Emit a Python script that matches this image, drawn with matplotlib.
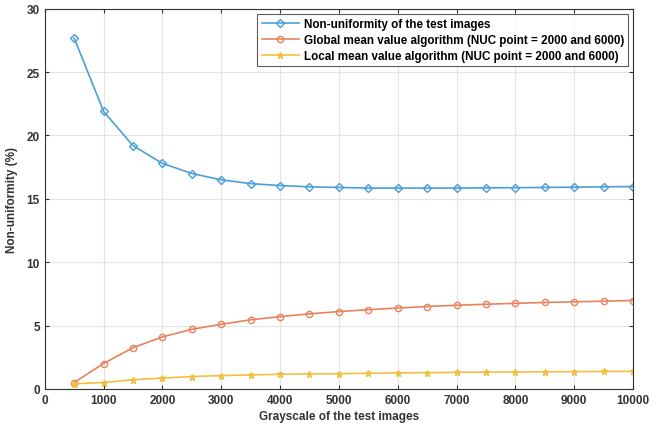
import matplotlib
matplotlib.use("Agg")
import matplotlib.pyplot as plt

grayscale = [500, 1000, 1500, 2000, 2500, 3000, 3500, 4000, 4500, 5000,
             5500, 6000, 6500, 7000, 7500, 8000, 8500, 9000, 9500, 10000]
nonuniformity = [27.7, 21.9, 19.2, 17.8, 17.0, 16.5, 16.2, 16.05, 15.95, 15.9,
                 15.85, 15.85, 15.85, 15.85, 15.87, 15.88, 15.9, 15.92, 15.95, 15.97]
global_mean = [0.5, 2.0, 3.25, 4.1, 4.7, 5.1, 5.45, 5.7, 5.92, 6.1,
               6.25, 6.38, 6.5, 6.6, 6.68, 6.75, 6.82, 6.87, 6.92, 6.97]
local_mean = [0.4, 0.5, 0.72, 0.85, 0.97, 1.05, 1.1, 1.15, 1.18, 1.2,
              1.23, 1.26, 1.28, 1.3, 1.32, 1.33, 1.35, 1.36, 1.37, 1.38]
labels = ["Non-uniformity of the test images",
          "Global mean value algorithm (NUC point = 2000 and 6000)",
          "Local mean value algorithm (NUC point = 2000 and 6000)"]

plt.rcParams['font.family'] = ['Liberation Sans', 'DejaVu Sans']
plt.rcParams['font.weight'] = 'bold'

fig = plt.figure(figsize=(6.58, 4.27), dpi=100)
ax = fig.add_axes([0.068, 0.087, 0.894, 0.89])

ax.plot(grayscale, nonuniformity, color='#4A9FD8', marker='D', markersize=4,
        markerfacecolor='none', markeredgewidth=1.0, linewidth=1.2, label=labels[0])
ax.plot(grayscale, global_mean, color='#E8825A', marker='o', markersize=4.5,
        markerfacecolor='none', markeredgewidth=1.0, linewidth=1.2, label=labels[1])
ax.plot(grayscale, local_mean, color='#F0C040', marker='*', markersize=4.5,
        linewidth=1.2, label=labels[2])

ax.set_xlim(0, 10000)
ax.set_ylim(0, 30)
ax.set_xticks(range(0, 10001, 1000))
ax.set_yticks(range(0, 31, 5))
ax.grid(True, color='#E4E4E4', linewidth=0.8)
ax.tick_params(direction='in', top=True, right=True, labelsize=8.5, length=3,
               colors='#333333')
for lab in ax.get_xticklabels() + ax.get_yticklabels():
    lab.set_fontweight('bold')
for s in ax.spines.values():
    s.set_color('#333333')
    s.set_linewidth(0.8)

ax.set_xlabel("Grayscale of the test images", fontsize=8.5, fontweight='bold',
              color='#333333', labelpad=3)
ax.set_ylabel("Non-uniformity (%)", fontsize=8.5, fontweight='bold',
              color='#333333', labelpad=6)

leg = ax.legend(loc='upper right', bbox_to_anchor=(0.9915, 0.987), borderaxespad=0,
                fontsize=8.4, frameon=True, fancybox=False, edgecolor='#333333',
                handlelength=3.2, borderpad=0.35, labelspacing=0.35,
                handletextpad=0.4)
leg.get_frame().set_linewidth(0.8)
for t in leg.get_texts():
    t.set_fontweight('bold')

fig.savefig("out.png", dpi=100)
